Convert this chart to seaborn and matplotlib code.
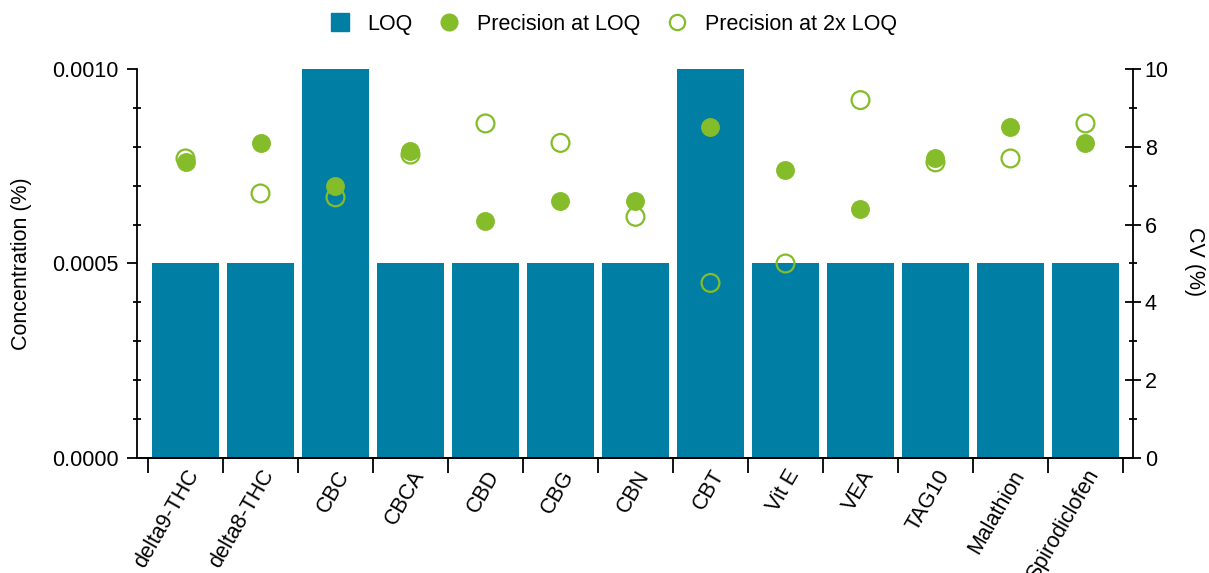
import numpy as np
import matplotlib
matplotlib.use("Agg")
import matplotlib.pyplot as plt
from matplotlib.lines import Line2D
from matplotlib.ticker import MultipleLocator, FormatStrFormatter, FixedLocator, NullFormatter
import seaborn as sns

compounds = ["delta9-THC", "delta8-THC", "CBC", "CBCA", "CBD", "CBG", "CBN",
             "CBT", "Vit E", "VEA", "TAG10", "Malathion", "Spirodiclofen"]
loq = [0.0005, 0.0005, 0.0010, 0.0005, 0.0005, 0.0005, 0.0005,
       0.0010, 0.0005, 0.0005, 0.0005, 0.0005, 0.0005]
cv_loq = [7.6, 8.1, 7.0, 7.9, 6.1, 6.6, 6.6, 8.5, 7.4, 6.4, 7.7, 8.5, 8.1]
cv_2x_loq = [7.7, 6.8, 6.7, 7.8, 8.6, 8.1, 6.2, 4.5, 5.0, 9.2, 7.6, 7.7, 8.6]

BLUE = "#007EA4"
GREEN = "#84BC2A"

sns.set_theme(style="ticks")
plt.rcParams["font.family"] = ["Liberation Sans", "DejaVu Sans"]
plt.rcParams["text.color"] = "black"
plt.rcParams["axes.labelcolor"] = "black"
FS = 15.5

fig = plt.figure(figsize=(12.09, 5.73), dpi=100)
ax = fig.add_axes([0.1133, 0.2007, 0.8238, 0.6789])

sns.barplot(x=compounds, y=loq, ax=ax, color=BLUE, saturation=1,
            width=0.89, linewidth=0)

pos = np.arange(len(compounds))
ax2 = ax.twinx()
sns.scatterplot(x=pos, y=cv_2x_loq, ax=ax2, s=165, marker="o",
                facecolor="none", edgecolor=GREEN, linewidth=1.6, zorder=3)
sns.scatterplot(x=pos, y=cv_loq, ax=ax2, s=185, marker="o",
                color=GREEN, edgecolor=GREEN, linewidth=0, zorder=4)

# axis ranges
ax.set_xlim(-0.647, len(compounds) - 1 + 0.633)
ax.set_ylim(0, 0.0010)
ax2.set_ylim(0, 10)

# left axis ticks
ax.yaxis.set_major_locator(FixedLocator([0, 0.0005, 0.0010]))
ax.yaxis.set_minor_locator(MultipleLocator(0.0001))
ax.yaxis.set_major_formatter(FormatStrFormatter("%.4f"))
ax.tick_params(axis="y", which="major", direction="out", length=7, width=1.3,
               labelsize=FS, pad=6, colors="black")
ax.tick_params(axis="y", which="minor", direction="inout", length=6, width=1.3,
               colors="black")

# right axis ticks
ax2.yaxis.set_major_locator(MultipleLocator(2))
ax2.yaxis.set_minor_locator(MultipleLocator(1))
ax2.tick_params(axis="y", which="major", direction="inout", length=11, width=1.3,
                labelsize=FS, pad=3, colors="black")
ax2.tick_params(axis="y", which="minor", direction="inout", length=6, width=1.3,
                colors="black")

# x axis: labels at category centres, tick marks at category boundaries
ax.set_xticks(pos)
ax.set_xticklabels(compounds, rotation=60, ha="right", rotation_mode="anchor",
                   fontsize=FS)
ax.xaxis.set_minor_locator(FixedLocator(np.arange(len(compounds) + 1) - 0.5))
ax.xaxis.set_minor_formatter(NullFormatter())
ax.tick_params(axis="x", which="major", length=0, pad=6, colors="black")
ax.tick_params(axis="x", which="minor", direction="out", length=11, width=1.3,
               colors="black")
ax2.tick_params(axis="x", which="both", length=0)
ax.set_xlabel("")

for a in (ax, ax2):
    a.spines["top"].set_visible(False)
    for side in ("left", "right", "bottom"):
        a.spines[side].set_linewidth(1.3)
        a.spines[side].set_color("black")
ax.spines["right"].set_visible(False)
ax2.spines["left"].set_visible(False)

ax.set_ylabel("Concentration (%)", fontsize=FS)
ax.yaxis.set_label_coords(-0.105, 0.5)
ax2.set_ylabel("CV (%)", fontsize=FS, rotation=270, va="center", ha="center")
ax2.yaxis.set_label_coords(1.062, 0.504)

handles = [
    Line2D([], [], linestyle="none", marker="s", markersize=13,
           markerfacecolor=BLUE, markeredgecolor=BLUE),
    Line2D([], [], linestyle="none", marker="o", markersize=12,
           markerfacecolor=GREEN, markeredgecolor=GREEN),
    Line2D([], [], linestyle="none", marker="o", markersize=11,
           markerfacecolor="none", markeredgecolor=GREEN, markeredgewidth=1.6),
]
fig.legend(handles, ["LOQ", "Precision at LOQ", "Precision at 2x LOQ"],
           loc="center", bbox_to_anchor=(0.507, 0.958), ncol=3, frameon=False,
           fontsize=FS, handlelength=1.0, handletextpad=0.8, columnspacing=1.2,
           labelcolor="black")

fig.savefig("out.png", dpi=100)
